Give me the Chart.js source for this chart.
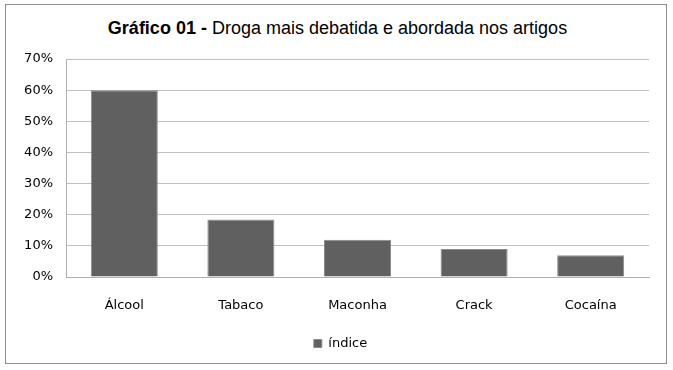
<!DOCTYPE html>
<html>
<head>
<meta charset="utf-8">
<script src="https://cdn.jsdelivr.net/npm/chart.js@4/dist/chart.umd.min.js"></script>
<style>
  body { margin: 0; background: #fff; }
  #moldura { position: relative; width: 673px; height: 370px; }
  #borda { position: absolute; left: 5px; top: 4px; width: 662px; height: 360px; border: 1px solid #8c8c8c; box-sizing: border-box; }
  #titulo { position: absolute; left: 0; top: 18px; width: 675px; text-align: center;
            font-family: "Liberation Sans", Arial, sans-serif; font-size: 18px; color: #000; }
  canvas { position: absolute; left: 0; top: 0; }
</style>
</head>
<body>
<div id="moldura">
  <div id="borda"></div>
  <div id="titulo"><b>Gráfico 01 -</b> Droga mais debatida e abordada nos artigos</div>
  <canvas id="grafico" width="673" height="370"></canvas>
</div>
<script>
// dados
const drogas = ['Álcool', 'Tabaco', 'Maconha', 'Crack', 'Cocaína'];
const indice = [60, 18.5, 12, 9, 7]; // em %
const serieNome = 'índice';
const marcasY = [0, 10, 20, 30, 40, 50, 60, 70];

const fonte = 'DejaVu Sans';

// empurra a legenda um pouco para a direita, como no original
const moveLegenda = {
    id: 'moveLegenda',
    afterLayout(chart) {
        if (chart.legend) {
            chart.legend.left += 16;
            chart.legend.right += 16;
        }
    }
};

const ctx = document.getElementById('grafico').getContext('2d');
new Chart(ctx, {
    type: 'bar',
    data: {
        labels: drogas,
        datasets: [{
            label: serieNome,
            data: indice,
            backgroundColor: '#606060',
            borderColor: '#8a8a8a',
            borderWidth: 1,
            barPercentage: 0.575,
            categoryPercentage: 1
        }]
    },
    plugins: [moveLegenda],
    options: {
        responsive: false,
        animation: false,
        layout: {
            padding: { top: 59, right: 24, bottom: 10, left: 0 }
        },
        plugins: {
            title: { display: false },
            tooltip: { enabled: false },
            legend: {
                position: 'bottom',
                labels: {
                    boxWidth: 8,
                    boxHeight: 8,
                    color: '#000',
                    padding: 10,
                    font: { family: fonte, size: 13 }
                }
            }
        },
        scales: {
            x: {
                grid: { display: false, drawTicks: false },
                border: { color: '#b0b0b0' },
                ticks: {
                    color: '#000',
                    padding: 21,
                    font: { family: fonte, size: 13 }
                },
                afterFit: function (escala) { escala.height = 50; }
            },
            y: {
                min: 0,
                max: 70,
                grid: { color: '#bfbfbf', drawTicks: false },
                border: { color: '#b0b0b0' },
                afterBuildTicks: function (escala) {
                    escala.ticks = marcasY.map(v => ({ value: v }));
                },
                ticks: {
                    color: '#000',
                    padding: 13,
                    font: { family: fonte, size: 13 },
                    callback: v => v + '%'
                },
                afterFit: function (escala) { escala.width = 66; }
            }
        }
    }
});
</script>
</body>
</html>
